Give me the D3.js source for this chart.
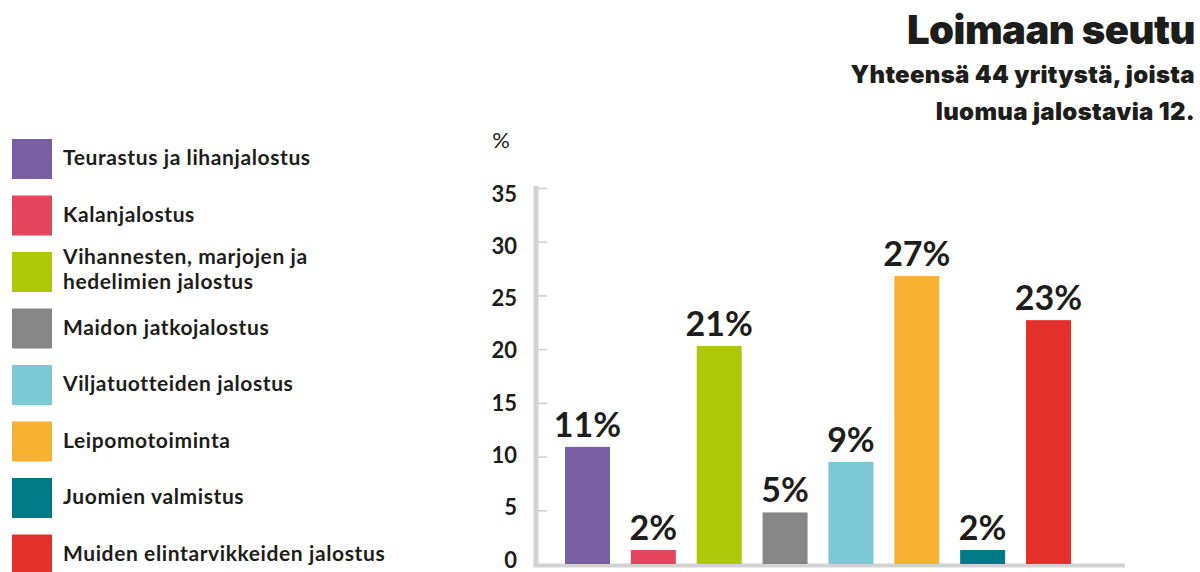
<!DOCTYPE html>
<html>
<head>
<meta charset="utf-8">
<script src="https://cdn.jsdelivr.net/npm/d3@7"></script>
<style>
  body { margin: 0; background: #fff; }
  svg { display: block; font-family: Lato, "Open Sans", sans-serif; }
</style>
</head>
<body>
<svg id="fig" width="1200" height="572"></svg>
<script>
// data
var categories = ["Teurastus ja lihanjalostus", "Kalanjalostus",
                  "Vihannesten, marjojen ja|hedelimien jalostus", "Maidon jatkojalostus",
                  "Viljatuotteiden jalostus", "Leipomotoiminta",
                  "Juomien valmistus", "Muiden elintarvikkeiden jalostus"];
var values = [10.9, 1.3, 20.3, 4.8, 9.5, 26.8, 1.3, 22.7];
var valueLabels = ["11%", "2%", "21%", "5%", "9%", "27%", "2%", "23%"];
var colors = ["#7a5ea3", "#e5465f", "#aec90a", "#878787", "#7cc8d4", "#f7b133", "#007a87", "#e3302b"];
var yTicks = [0, 5, 10, 15, 20, 25, 30, 35];

var svg = d3.select("#fig");
var ink = "#1d1d1b";

// title
svg.append("text").attr("x", 1195).attr("y", 44)
   .attr("text-anchor", "end").attr("font-family", "Inter, Lato, sans-serif")
   .attr("font-size", 40).attr("font-weight", 900).attr("letter-spacing", -0.5)
   .attr("fill", ink).text("Loimaan seutu");
svg.selectAll(".sub").data(["Yhteensä 44 yritystä, joista", "luomua jalostavia 12."])
   .enter().append("text").attr("class", "sub")
   .attr("x", 1195).attr("y", (d, i) => 83 + i * 37)
   .attr("text-anchor", "end").attr("font-family", "Inter, Lato, sans-serif")
   .attr("font-size", 24).attr("font-weight", 900).attr("letter-spacing", 0.3)
   .attr("fill", ink).text(d => d);

// legend
var leg = svg.append("g");
var legItems = leg.selectAll("g").data(categories).enter().append("g")
   .attr("transform", (d, i) => "translate(12," + (139 + i * 56.5) + ")");
legItems.append("rect").attr("width", 40).attr("height", 40)
   .attr("fill", (d, i) => colors[i]);
legItems.each(function(d) {
    var lines = d.split("|");
    var t = d3.select(this).append("text").attr("font-size", 21).attr("font-weight", 700)
        .attr("letter-spacing", 0.6).attr("fill", ink);
    lines.forEach(function(l, j) {
        t.append("tspan").attr("x", 51)
         .attr("y", lines.length > 1 ? 12 + j * 25 : 26)
         .text(l);
    });
});

// scales
var y = d3.scaleLinear().domain([0, 35]).range([564, 188]);
var yLab = d3.scaleLinear().domain([0, 35]).range([560, 194]); // labels sit a bit off the ticks
var x = d3.scaleBand().domain(categories).range([565, 1071])
          .paddingInner(0.317).paddingOuter(0);

// axis lines
svg.append("line").attr("x1", 536).attr("x2", 536).attr("y1", 186).attr("y2", 567)
   .attr("stroke", "#d3d3d3").attr("stroke-width", 5);
svg.append("line").attr("x1", 534).attr("x2", 1125).attr("y1", 565.5).attr("y2", 565.5)
   .attr("stroke", "#d3d3d3").attr("stroke-width", 4);

// small ticks on the right of the axis line
var tickG = svg.append("g").attr("transform", "translate(538,0)")
   .call(d3.axisRight(y).tickValues(yTicks.slice(1)).tickSize(9).tickFormat(""));
tickG.select(".domain").remove();
tickG.selectAll("line").attr("stroke", "#cfcfcf").attr("stroke-width", 1.5);

// tick labels
var labG = svg.append("g").attr("transform", "translate(517,0)")
   .call(d3.axisLeft(yLab).tickValues(yTicks).tickSize(0).tickPadding(0));
labG.select(".domain").remove();
labG.selectAll("text").attr("font-family", "Lato, sans-serif")
   .attr("font-size", 22).attr("font-weight", 700).attr("fill", ink)
   .attr("dy", "0.32em");

svg.append("text").attr("x", 501).attr("y", 148).attr("text-anchor", "middle")
   .attr("font-size", 22).attr("fill", ink).text("%");

// bars
svg.selectAll(".bar").data(values).enter().append("rect").attr("class", "bar")
   .attr("x", (d, i) => x(categories[i]))
   .attr("y", d => y(d))
   .attr("width", x.bandwidth())
   .attr("height", d => y(0) - y(d))
   .attr("fill", (d, i) => colors[i]);

svg.selectAll(".vlab").data(values).enter().append("text").attr("class", "vlab")
   .attr("x", (d, i) => x(categories[i]) + x.bandwidth() / 2)
   .attr("y", d => y(d) - 10)
   .attr("text-anchor", "middle")
   .attr("font-size", 34).attr("font-weight", 700).attr("fill", ink)
   .text((d, i) => valueLabels[i]);
</script>
</body>
</html>
